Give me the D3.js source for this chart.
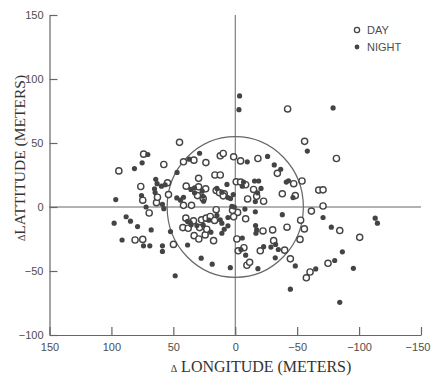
<!DOCTYPE html>
<html><head><meta charset="utf-8">
<script src="https://cdn.jsdelivr.net/npm/d3@7"></script>
<style>body{margin:0;background:#fff}svg{display:block}</style>
</head><body>
<script>
const xTicks = [150, 100, 50, 0, -50, -100, -150];
const yTicks = [-100, -50, 0, 50, 100, 150];
const xTitle = "LONGITUDE (METERS)";
const yTitle = "LATTITUDE (METERS)";
const legendLabels = ["DAY", "NIGHT"];
const circleRadius = 55;
const dayPoints = [[-42.3,76.6],[45,50.5],[-56,51.3],[-81.7,37.9],[74,41.3],[94,28.2],[57.7,33.2],[41.8,35.3],[33.4,36.6],[23.7,34.7],[29.6,22.4],[16.4,25],[12.1,25],[12.1,40],[9.7,41.8],[1.3,39.2],[-4.3,36],[-18.3,37.9],[-34,26.3],[-47.2,18.2],[-53.9,20.3],[-38,10.3],[-48.5,8.9],[-67.4,13.2],[-70.9,13.4],[-70.9,0.8],[-61.5,-3.2],[-52.8,-10.3],[-55.8,-17.1],[-84.4,-18.4],[-100.5,-23.7],[-52.3,-25.3],[-44.5,-40.5],[-57.4,-55.3],[-60.4,-50.8],[-74.9,-44],[-39.9,-33.7],[-31,-26.3],[-30.2,-17.9],[-41.8,-15.8],[-22.4,-18.7],[-20.2,-34.2],[-9.4,-45.5],[-11.6,-43.2],[-7,-31.8],[-2.4,-34.2],[-1.3,-25],[-8.4,-9.2],[-1.9,-4.2],[1.3,-7.6],[49.9,-29.2],[74.7,-25.3],[80.9,-25.8],[69.5,-4.7],[74.7,5.3],[76.3,16],[63.6,3.4],[62.8,7.6],[53.9,9.7],[54.7,18.9],[41.8,1.3],[35.3,1.3],[39.6,16.3],[30.5,8.9],[29.6,15.8],[25.9,6.6],[23.9,14.2],[15.4,12.9],[12.7,11.1],[8.9,10.3],[9.7,8.7],[-0.8,19.7],[-4.3,19.5],[-8.4,17.4],[-10,6.3],[-14.8,13.7],[-17.3,8.4],[-22.9,4.5],[39.9,-8.7],[33.7,-10.8],[28.8,-16.1],[27.2,-10],[23.5,-8.7],[20.2,-7.4],[16.7,-10.5],[15.4,-2.1],[2.2,-2.6],[42.3,-16.1],[38,-16.6],[33.2,-22.4],[29.4,-25],[24.3,-21.8],[17.5,-26.3],[23,-17.4]];
const nightPoints = [[-3.5,86.8],[-3,76],[-79,77.4],[-58.2,43.7],[70.6,41],[75.2,34.5],[81.4,30],[47,27],[37.2,37.4],[28.8,42],[-9.7,35.3],[-26.1,39.5],[-31.5,32.9],[-36.7,29.5],[-41.2,19.5],[-43,20.5],[-46.6,7.4],[-70.9,-8.2],[-77.6,-15.8],[-113,-8.7],[-114.8,-12.6],[-48.5,-46],[-65,-48.4],[-80.3,-41.8],[-86.5,-35],[-95.4,-47.9],[-84.4,-74.5],[-44.5,-64.2],[-32.3,-39.7],[-34.8,-33.2],[-32.6,-29.2],[-28.8,-31.3],[-38,-6],[-22.9,-31],[-18.3,-48.2],[-17.3,-17.9],[-16.4,-14.5],[-16.7,-20.5],[-16.2,-3.7],[-8.4,-37.6],[-4.6,-33.2],[-5.7,-24.2],[-7.8,-1.6],[4,-47.4],[18.6,-44.7],[27.5,-40],[38.5,-29.7],[52.3,-19.2],[48.5,-53.7],[58.8,-30.3],[58.8,-34.7],[69,-30.3],[74.1,-30.3],[91.4,-25.8],[97.8,-12.6],[88.1,-7.6],[84.6,-11.1],[78.9,-15.3],[67.9,-17.9],[72,0],[75.7,8.9],[96.5,5.8],[57.7,-1.3],[58.8,2.1],[64.7,11.3],[65.2,14.2],[64.2,21.6],[63.1,18.2],[59.6,16.3],[56.6,17.4],[47.2,7.1],[44.2,5.3],[41.8,7.6],[35.8,13.7],[32.9,11.1],[32.9,15],[26.7,12.4],[26.1,8.4],[25.6,4.5],[14.8,14.5],[10.8,11.6],[6.7,17.6],[5.9,7.4],[3.8,6.6],[1.6,9.7],[2.7,0.5],[-6.7,19.5],[-5.7,16.3],[-15.6,20.3],[-18.9,20.3],[-20.8,14.5],[-16.2,4.2],[-18,11.1],[38.5,-11.3],[36.4,-12.1],[35.6,-13.9],[31,-14.5],[25.9,-14.2],[21.3,-10.3],[12.1,-10],[10.8,-12.6],[14.8,-6.6],[5.9,-8.2],[0.8,0],[19.7,-19.7],[8.9,-17.4],[5.9,-14.7],[10.8,-20.5]];

const W = 432, H = 377;
const ink = "#444", lineCol = "#666";
const svg = d3.select("body").append("svg").attr("width", W).attr("height", H);
const x = d3.scaleLinear().domain([150, -150]).range([49.5, 421]);
const y = d3.scaleLinear().domain([-100, 150]).range([335, 15]);
const sans = "'Liberation Sans', Arial, sans-serif";
const serif = "'Liberation Serif', 'Times New Roman', serif";
const fmt = d => d < 0 ? "\u2212" + Math.abs(d) : String(d);

// axes
const xAxis = svg.append("g").attr("transform", `translate(0,${y(-100)})`)
  .call(d3.axisBottom(x).tickValues(xTicks).tickSizeInner(-8).tickSizeOuter(0).tickPadding(14).tickFormat(fmt));
const yAxis = svg.append("g").attr("transform", `translate(${x(150)},0)`)
  .call(d3.axisLeft(y).tickValues(yTicks).tickSizeInner(-8).tickSizeOuter(0).tickPadding(14).tickFormat(fmt));
[xAxis, yAxis].forEach(a => {
  a.select(".domain").attr("stroke", lineCol).attr("stroke-width", 1.2);
  a.selectAll(".tick line").attr("stroke", lineCol).attr("stroke-width", 1.2);
  a.selectAll(".tick text").attr("fill", "#4d4d4d").style("font-family", sans).style("font-size", "11px");
});
xAxis.selectAll(".tick text").attr("dy", "0.2em").attr("dx", d => d === -150 ? "-3.5px" : null);
yAxis.selectAll(".tick text").attr("dx", "8px");

// zero lines
svg.append("line").attr("x1", x(150)).attr("x2", x(-150)).attr("y1", y(0)).attr("y2", y(0))
  .attr("stroke", lineCol).attr("stroke-width", 1);
svg.append("line").attr("x1", x(0)).attr("x2", x(0)).attr("y1", y(-100)).attr("y2", y(150))
  .attr("stroke", lineCol).attr("stroke-width", 1);

// reference circle
svg.append("ellipse").attr("cx", x(0)).attr("cy", y(0))
  .attr("rx", Math.abs(x(circleRadius) - x(0))).attr("ry", Math.abs(y(circleRadius) - y(0)))
  .attr("fill", "none").attr("stroke", lineCol).attr("stroke-width", 1.2);

// points
svg.append("g").selectAll("circle").data(dayPoints).join("circle")
  .attr("cx", d => x(d[0])).attr("cy", d => y(d[1])).attr("r", 3.1)
  .attr("fill", "#fff").attr("stroke", ink).attr("stroke-width", 1.4);
svg.append("g").selectAll("circle").data(nightPoints).join("circle")
  .attr("cx", d => x(d[0])).attr("cy", d => y(d[1])).attr("r", 2.6)
  .attr("fill", ink);

// legend
const lg = svg.append("g");
lg.append("circle").attr("cx", 357).attr("cy", 30).attr("r", 2.6).attr("fill", "#fff").attr("stroke", ink).attr("stroke-width", 1.3);
lg.append("circle").attr("cx", 357).attr("cy", 47).attr("r", 2.4).attr("fill", ink);
lg.selectAll("text").data(legendLabels).join("text")
  .attr("x", 367).attr("y", (d, i) => 34 + i * 17)
  .attr("fill", "#4d4d4d").style("font-family", sans).style("font-size", "11px").text(d => d);

// titles
const xt = svg.append("text").attr("x", 261).attr("y", 372).attr("text-anchor", "middle")
  .attr("fill", "#333").style("font-family", serif).style("font-size", "16px");
xt.append("tspan").style("font-size", "10px").text("\u0394");
xt.append("tspan").attr("dx", "4px").text(xTitle);
const yt = svg.append("text").attr("transform", "translate(25,158) rotate(-90)").attr("text-anchor", "middle")
  .attr("fill", "#333").style("font-family", serif).style("font-size", "15.5px");
yt.append("tspan").style("font-size", "10px").text("\u0394");
yt.append("tspan").text(yTitle);
</script>
</body></html>
